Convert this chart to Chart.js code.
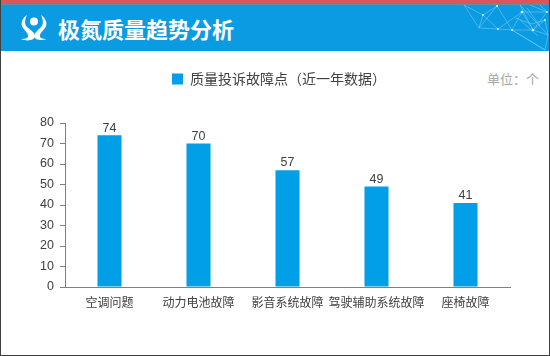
<!DOCTYPE html>
<html lang="zh">
<head>
<meta charset="utf-8">
<title>极氮质量趋势分析</title>
<script src="https://cdn.jsdelivr.net/npm/chart.js@4"></script>
<style>
  html, body { margin: 0; padding: 0; background: #fff; }
  body { width: 550px; height: 356px; overflow: hidden; position: relative; font-family: "Noto Sans CJK SC", sans-serif; }
  #frame { position: absolute; inset: 0; border: 1px solid #404040; border-top: 0; box-sizing: border-box; pointer-events: none; z-index: 3; }
  #top-strip { position: absolute; left: 0; top: 0; width: 550px; height: 5px; background: #d9575a; border-bottom: 1px solid #5f8fae; box-sizing: border-box; }
  #banner { position: absolute; left: 0; top: 5px; width: 550px; height: 46px; background: #0a9be3; }
  #banner svg { position: absolute; left: 0; top: 0; }
  #title { position: absolute; left: 58px; top: 7px; line-height: 32px; font-size: 22px; font-weight: 700; color: #fff; white-space: nowrap; }
  #unit { position: absolute; left: 487px; top: 70px; font-size: 13px; line-height: 18px; color: #a6a6a6; white-space: nowrap; }
  #chart-wrap { position: absolute; left: 0; top: 0; width: 550px; height: 356px; }
</style>
</head>
<body>
<div id="top-strip"></div>
<div id="banner">
  <svg width="550" height="46" viewBox="0 5 550 46">
    <!-- logo -->
    <g fill="#fff">
      <circle cx="34" cy="21.5" r="4"/>
      <path d="M27 15C22 18 20 24 23 28C26 32 28 33 28 36C28 38 26 39 21 39C28 42 35 40 35 36C35 32 30 30 27 27C24 24 25 19 27 15Z"/>
      <path d="M41 15C46 18 48 24 45 28C42 32 40 33 40 36C40 38 42 39 47 39C41 41 35 40 34.5 37C34 33 38 30 41 27C44 24 43 19 41 15Z"/>
    </g>
    <!-- 右上角网格装饰 -->
    <g stroke="#8fdcff" stroke-width="0.6" fill="none" opacity="0.75">
      <path d="M464 5L483 15L497 6L512 30L522 12L533 30L548 35L545 50L512 30"/>
      <path d="M483 15L479 28L498 29L512 30L533 30"/>
      <path d="M497 6L479 28M522 12L547 12L533 30L520 5L548 35"/>
      <path d="M464 5L479 28M498 29L483 15M522 12L498 29M512 30L545 50"/>
      <path d="M530 5L547 12L540 5M533 30L545 20L548 35"/>
      <path d="M515 18L532 24L545 20M520 20L538 36M527 8L540 26"/>
    </g>
    <g fill="#c9f1ff">
      <circle cx="483" cy="15" r="1.1"/><circle cx="497" cy="6" r="1.1"/>
      <circle cx="522" cy="12" r="1.3"/><circle cx="533" cy="30" r="1.3"/>
      <circle cx="512" cy="30" r="1"/><circle cx="547" cy="12" r="1.1"/>
      <circle cx="545" cy="20" r="1"/><circle cx="498" cy="29" r="0.9"/>
    </g>
  </svg>
  <div id="title">极氮质量趋势分析</div>
</div>
<div id="unit">单位：个</div>
<div id="chart-wrap"><canvas id="chart-quality" width="550" height="356"></canvas></div>
<div id="frame"></div>

<script>
const categories = ["空调问题", "动力电池故障", "影音系统故障", "驾驶辅助系统故障", "座椅故障"];
const complaintCounts = [74, 70, 57, 49, 41];
const seriesName = "质量投诉故障点（近一年数据）";
const yTicks = [0, 10, 20, 30, 40, 50, 60, 70, 80];

const fontFamily = '"Liberation Sans", "Noto Sans CJK SC", sans-serif';
const cjkFamily = '"Noto Sans CJK SC", sans-serif';

// 막대 위 값 표시
const valueLabelPlugin = {
  id: "valueLabels",
  afterDatasetsDraw(chart) {
    const ctx = chart.ctx;
    const meta = chart.getDatasetMeta(0);
    ctx.save();
    ctx.font = "12.5px " + fontFamily;
    ctx.fillStyle = "#404040";
    ctx.textAlign = "center";
    ctx.textBaseline = "bottom";
    meta.data.forEach((bar, i) => {
      ctx.fillText(String(complaintCounts[i]), bar.x, bar.y - 1);
    });
    ctx.restore();
  },
};

// 범례 위치 보정
const legendShiftPlugin = {
  id: "legendShift",
  afterLayout(chart) {
    const legend = chart.legend;
    legend.left += 24;
    legend.right += 24;
    legend.top -= 27;
    legend.bottom -= 27;
  },
};

new Chart(document.getElementById("chart-quality"), {
  type: "bar",
  data: {
    labels: categories,
    datasets: [
      {
        label: seriesName,
        data: complaintCounts,
        backgroundColor: "#009fe8",
        barPercentage: 0.27,
        categoryPercentage: 1,
      },
    ],
  },
  options: {
    responsive: false,
    animation: false,
    layout: { padding: { left: 0, right: 40, top: 94, bottom: 0 } },
    plugins: {
      tooltip: { enabled: false },
      legend: {
        position: "top",
        align: "center",
        labels: {
          boxWidth: 11,
          boxHeight: 11,
          padding: 5,
          color: "#404040",
          font: { size: 14, family: cjkFamily },
        },
      },
    },
    scales: {
      x: {
        grid: { display: false },
        border: { color: "#808080" },
        ticks: {
          color: "#404040",
          font: { size: 12, family: cjkFamily },
          maxRotation: 0,
          minRotation: 0,
          autoSkip: false,
          padding: 0,
        },
        afterFit(scale) { scale.height = 69; },
      },
      y: {
        min: 0,
        max: 80,
        afterBuildTicks(scale) { scale.ticks = yTicks.map((v) => ({ value: v })); },
        grid: { drawOnChartArea: false, tickLength: 5, color: "#808080" },
        border: { color: "#808080" },
        ticks: {
          color: "#404040",
          font: { size: 12.5, family: fontFamily },
          padding: 6,
        },
        afterFit(scale) { scale.width = 65; },
      },
    },
  },
  plugins: [valueLabelPlugin, legendShiftPlugin],
});
</script>
</body>
</html>
